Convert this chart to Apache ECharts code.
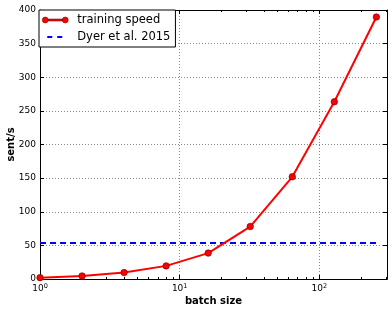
<!DOCTYPE html>
<html><head><meta charset="utf-8">
<script src="https://cdn.jsdelivr.net/npm/echarts@6/dist/echarts.min.js"></script>
<style>html,body{margin:0;padding:0;background:#fff}#c{width:392px;height:313px}</style>
</head><body><div id="c"></div>
<script>
const batchSizes = [1, 2, 4, 8, 16, 32, 64, 128, 256];
const trainingSpeed = [2, 4.5, 9.5, 19.5, 38.5, 78, 152, 263.5, 389.5];
const dyerValue = 53.5;
const dyerRange = [1, 256];
const yTicks = [0, 50, 100, 150, 200, 250, 300, 350, 400];
const majorX = [1, 10, 100];
const minorX = [2,3,4,5,6,7,8,9,20,30,40,50,60,70,80,90,200,300];
const xMin = 1, xMax = 305;

const font = 'DejaVu Sans';
const chart = echarts.init(document.getElementById('c'), null, {renderer: 'canvas'});
const axisLine = {show: true, lineStyle: {color: '#000', width: 1}};
function xAx(pos, minor) {
  return {
    type: 'log', logBase: 10, min: xMin, max: xMax, position: pos,
    axisLine: axisLine,
    axisTick: minor ? {show: true, inside: true, length: 2, lineStyle: {color: '#000'}, customValues: minor}
                    : {show: true, inside: true, length: 4, lineStyle: {color: '#000'}, customValues: majorX},
    axisLabel: {show: false},
    splitLine: {show: false},
    minorTick: {show: false}
  };
}
const xMain = xAx('bottom', null);
xMain.axisLabel = {
  show: true, fontFamily: font, fontSize: 9, color: '#000', margin: 4,
  customValues: majorX,
  formatter: v => '10{s|' + Math.round(Math.log10(v)) + '}',
  rich: {s: {fontSize: 6.5, fontFamily: font, color: '#000', verticalAlign: 'top', padding: [0,0,5,0]}}
};
xMain.splitLine = {show: true, lineStyle: {color: '#888', width: 1, type: [1, 2]}};
xMain.name = 'batch size';
xMain.nameLocation = 'middle';
xMain.nameGap = 17;
xMain.nameMoveOverlap = false;
xMain.nameTextStyle = {fontFamily: font, fontSize: 10, fontWeight: 'bold', color: '#000', verticalAlign: 'top'};

chart.setOption({
  animation: false,
  grid: {left: 40, right: 5, top: 10, bottom: 34, outerBoundsMode: 'none', containLabel: false},
  xAxis: [xMain, xAx('bottom', minorX), xAx('top', null), xAx('top', minorX)],
  yAxis: [
    {type: 'value', min: 0, max: 400, interval: 50, position: 'left',
     axisLine: axisLine,
     axisTick: {show: true, inside: true, length: 4, lineStyle: {color: '#000'}},
     axisLabel: {fontFamily: font, fontSize: 9, color: '#000', margin: 4},
     splitLine: {show: true, lineStyle: {color: '#888', width: 1, type: [1, 2]}},
     name: 'sent/s', nameLocation: 'middle', nameGap: 24, nameMoveOverlap: false,
     nameTextStyle: {fontFamily: font, fontSize: 10, fontWeight: 'bold', color: '#000'}},
    {type: 'value', min: 0, max: 400, interval: 50, position: 'right',
     axisLine: axisLine,
     axisTick: {show: true, inside: true, length: 4, lineStyle: {color: '#000'}},
     axisLabel: {show: false}, splitLine: {show: false}}
  ],
  legend: {
    left: 39, top: 10, orient: 'vertical',
    backgroundColor: '#fff', borderColor: '#000', borderWidth: 1, borderRadius: 0,
    padding: [3, 5, 3, 3], itemGap: 3, itemWidth: 26, itemHeight: 6, symbolKeepAspect: true,
    textStyle: {fontFamily: font, fontSize: 11.5, color: '#000', lineHeight: 14, padding: [0, 0, 0, 4]},
    data: [
      {name: 'training speed',
       icon: 'path://M0,3 A3,3 0 1 1 6,3 A3,3 0 1 1 0,3 Z M6,2 L20,2 L20,4 L6,4 Z M20,3 A3,3 0 1 1 26,3 A3,3 0 1 1 20,3 Z',
       itemStyle: {color: '#ff0000', borderColor: '#660000', borderWidth: 0.5}},
      {name: 'Dyer et al. 2015',
       icon: 'path://M0,0 L0.01,0 L0,0.01 Z M26,6 L25.99,6 L26,5.99 Z M5,2 L10,2 L10,4 L5,4 Z M15,2 L20,2 L20,4 L15,4 Z',
       itemStyle: {color: '#0000ff', borderWidth: 0}}
    ]
  },
  series: [
    {name: 'training speed', type: 'line', xAxisIndex: 0, yAxisIndex: 0,
     data: batchSizes.map((b, i) => [b, trainingSpeed[i]]),
     lineStyle: {color: '#ff0000', width: 2},
     itemStyle: {color: '#ff0000', borderColor: '#550000', borderWidth: 0.6},
     symbol: 'circle', symbolSize: 6.5, showSymbol: true, z: 3},
    {name: 'Dyer et al. 2015', type: 'line', xAxisIndex: 0, yAxisIndex: 0,
     data: dyerRange.map(b => [b, dyerValue]),
     lineStyle: {color: '#0000ff', width: 2, type: [6, 4]},
     itemStyle: {color: '#0000ff'},
     symbol: 'none', z: 2}
  ]
});
</script></body></html>
